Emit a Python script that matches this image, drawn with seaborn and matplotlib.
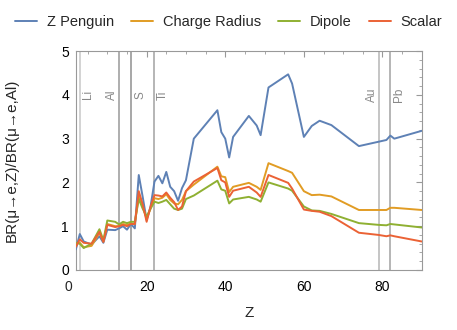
import pandas as pd
import seaborn as sns
import matplotlib.pyplot as plt
from matplotlib.ticker import MultipleLocator

z = [2, 3, 4, 6, 8, 9, 10, 12, 13, 14, 15, 16, 17, 18, 19, 20, 21, 22, 23, 24,
     25, 26, 27, 28, 29, 30, 32, 38, 39, 40, 41, 42, 46, 48, 49, 51, 56, 57, 60,
     62, 64, 67, 74, 79, 81, 82, 83, 90]

z_penguin = [0.47, 0.82, 0.65, 0.58, 0.77, 0.62, 0.92, 0.91, 0.95, 1.0, 0.92, 1.05,
             0.95, 2.17, 1.67, 1.14, 1.45, 2.02, 2.15, 1.98, 2.24, 1.9, 1.8, 1.58,
             1.87, 2.05, 3.0, 3.65, 3.15, 3.0, 2.57, 3.04, 3.52, 3.3, 3.08, 4.17,
             4.47, 4.26, 3.04, 3.29, 3.41, 3.31, 2.83, 2.93, 2.97, 3.07, 3.0, 3.18]
charge_radius = [0.6, 0.62, 0.52, 0.55, 0.85, 0.65, 1.05, 1.0, 1.0, 1.05, 1.03, 1.06,
                 1.05, 1.7, 1.45, 1.17, 1.4, 1.64, 1.62, 1.65, 1.73, 1.6, 1.52, 1.5,
                 1.6, 1.8, 1.95, 2.36, 2.14, 2.12, 1.78, 1.9, 1.99, 1.9, 1.83, 2.44,
                 2.26, 2.22, 1.8, 1.71, 1.72, 1.68, 1.37, 1.37, 1.37, 1.42, 1.42, 1.37]
dipole = [0.62, 0.6, 0.5, 0.6, 0.93, 0.68, 1.13, 1.1, 1.04, 1.1, 1.07, 1.1,
          1.1, 1.62, 1.4, 1.22, 1.4, 1.56, 1.53, 1.56, 1.6, 1.5, 1.4, 1.37,
          1.4, 1.62, 1.7, 2.04, 1.84, 1.81, 1.52, 1.61, 1.67, 1.61, 1.56, 2.0,
          1.86, 1.81, 1.45, 1.36, 1.35, 1.28, 1.07, 1.03, 1.02, 1.05, 1.04, 0.97]
scalar = [0.53, 0.7, 0.62, 0.6, 0.87, 0.64, 1.03, 0.98, 1.0, 1.03, 1.0, 1.05,
          1.05, 1.8, 1.5, 1.1, 1.45, 1.71, 1.7, 1.68, 1.77, 1.65, 1.55, 1.37,
          1.45, 1.8, 2.02, 2.33, 2.05, 2.0, 1.67, 1.81, 1.9, 1.77, 1.67, 2.17,
          1.99, 1.86, 1.38, 1.35, 1.33, 1.23, 0.85, 0.8, 0.77, 0.79, 0.77, 0.65]

series_names = ['Z Penguin', 'Charge Radius', 'Dipole', 'Scalar']
colors = ['#5E81B5', '#E19C24', '#8FB032', '#EB6235']

elements = ['Li', 'Al', 'S', 'Ti', 'Au', 'Pb']
element_z = [3, 13, 16, 22, 79, 82]
label_x = [5.2, 11.3, 18.4, 24.2, 77.4, 84.3]
line_grays = ['#d0d0d0', '#a8a8a8', '#a0a0a0', '#b0b0b0', '#c0c0c0', '#b0b0b0']

df = pd.DataFrame({
    'Z': z * 4,
    'BR': z_penguin + charge_radius + dipole + scalar,
    'model': sum([[n] * len(z) for n in series_names], []),
})

sns.set_style('white')
plt.rcParams['font.family'] = ['Liberation Sans', 'DejaVu Sans']

fig = plt.figure(figsize=(4.57, 3.30), dpi=100)
ax = fig.add_axes([0.166, 0.182, 0.757, 0.663])

for zz, g in zip(element_z, line_grays):
    ax.axvline(zz, color=g, lw=1.3, zorder=1)
for name, x in zip(elements, label_x):
    ax.text(x, 4.0, name, rotation=90, ha='center', va='center',
            color='#888888', fontsize=8.5)

sns.lineplot(data=df, x='Z', y='BR', hue='model', palette=colors, sort=False,
             linewidth=1.4, ax=ax, zorder=3)

handles, labels = ax.get_legend_handles_labels()
ax.get_legend().remove()
fig.legend(handles, labels, loc='upper center', bbox_to_anchor=(0.5, 0.995),
           ncol=4, frameon=False, fontsize=10.5, handlelength=1.5,
           columnspacing=1.2, handletextpad=0.65)

ax.set_xlim(2, 90)
ax.set_ylim(0, 5)
ax.xaxis.set_major_locator(MultipleLocator(20))
ax.xaxis.set_minor_locator(MultipleLocator(5))
ax.yaxis.set_major_locator(MultipleLocator(1))
ax.yaxis.set_minor_locator(MultipleLocator(0.2))
ax.tick_params(which='both', direction='in', top=True, right=True,
               color='#999999', labelsize=10, labelcolor='black')
ax.tick_params(which='major', length=4, width=0.8)
ax.tick_params(which='minor', length=2, width=0.6)
ax.tick_params(axis='x', pad=7)
ax.tick_params(axis='y', pad=5)
for s in ax.spines.values():
    s.set_color('#999999')
    s.set_linewidth(0.8)

# the "0" tick label sits just left of the frame in the original
ax.annotate('0', xy=(0, 0), xycoords=('data', 'axes fraction'),
            xytext=(0, -7), textcoords='offset points',
            ha='center', va='top', fontsize=10, annotation_clip=False)

ax.set_xlabel('Z', fontsize=11)
ax.set_ylabel('BR(μ→e,Z)/BR(μ→e,Al)', fontsize=11)
ax.xaxis.set_label_coords(0.5, -0.165)
ax.yaxis.set_label_coords(-0.165, 0.5)

fig.savefig('out.png', dpi=100)
